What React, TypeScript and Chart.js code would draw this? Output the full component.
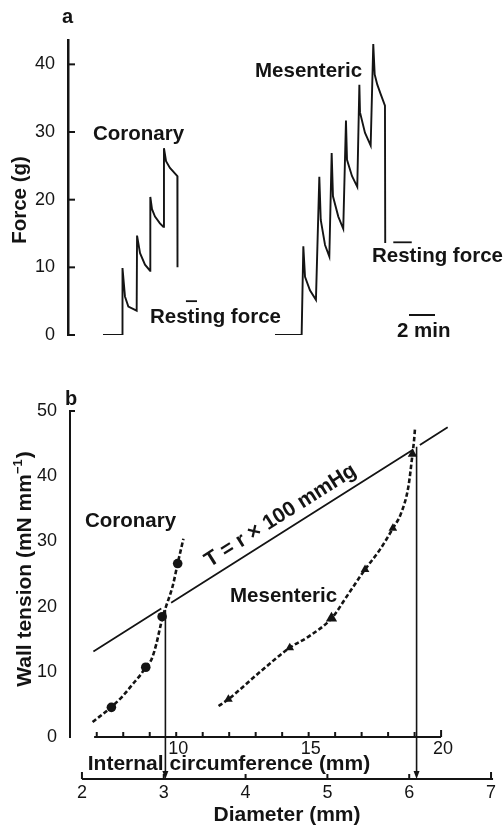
import React, { useEffect, useRef } from "react";
import { Chart, registerables } from "chart.js";

Chart.register(...registerables);

const FONT = '"Liberation Sans", Arial, Helvetica, sans-serif';
const INK = "#141414";

// ---------- Panel a: isometric force traces (time in min, force in g) ----------
const forceTicks = [0, 10, 20, 30, 40];
const coronaryTime = [0, 1.48, 1.5, 1.69, 1.95, 2.59, 2.62, 2.85, 3.23, 3.62, 3.64, 3.77, 4.0, 4.38, 4.64, 4.69, 4.85, 5.15, 5.72, 5.73];
const coronaryForce = [0, 0, 9.9, 5.7, 4.2, 3.6, 14.7, 12.1, 10.4, 9.5, 20.4, 18.6, 17.5, 16.5, 16.0, 27.6, 25.7, 24.7, 23.5, 10.0];
const mesentericTime = [13.23, 15.28, 15.41, 15.54, 15.92, 16.38, 16.64, 16.75, 17.08, 17.41, 17.59, 17.69, 18.1, 18.48, 18.69, 18.77, 19.15, 19.56, 19.72, 19.77, 20.15, 20.59, 20.79, 20.9, 21.1, 21.36, 21.69, 21.71];
const mesentericForce = [0, 0, 13.1, 8.6, 6.6, 5.2, 23.4, 17.0, 13.3, 11.6, 26.9, 20.5, 17.5, 15.7, 31.7, 25.9, 23.5, 21.9, 37.0, 32.9, 29.9, 28.0, 43.0, 38.5, 37.0, 35.6, 33.9, 13.6];
const coronaryRestTime = [6.38, 7.23];
const coronaryRestForce = [5.0, 5.0];
const mesentericRestTime = [22.33, 23.75];
const mesentericRestForce = [13.7, 13.7];
const scaleBarMinutes = 2;

// ---------- Panel b: wall tension vs diameter ----------
const tensionTicks = [0, 10, 20, 30, 40, 50];
const coronaryDiam = [2.36, 2.78, 2.98, 3.17];
const coronaryTension = [4.55, 10.7, 18.45, 26.6];
const coronaryCurveDiam = [2.13, 2.36, 2.5, 2.62, 2.72, 2.79, 2.85, 2.91, 2.95, 2.99, 3.03, 3.11, 3.17, 3.24];
const coronaryCurveTension = [2.3, 4.6, 6.3, 8.1, 9.6, 10.9, 11.9, 14.3, 16.5, 18.6, 20.1, 23.2, 26.6, 30.4];
const mesentericDiam = [3.79, 4.54, 5.05, 5.46, 5.8, 6.04];
const mesentericTension = [5.8, 13.7, 18.2, 25.7, 32.0, 43.4];
const mesentericCurveDiam = [3.67, 3.79, 4.16, 4.54, 4.77, 5.05, 5.26, 5.46, 5.64, 5.8, 5.9, 5.99, 6.04, 6.06, 6.07];
const mesentericCurveTension = [4.75, 5.8, 9.8, 13.7, 15.4, 18.2, 22.0, 25.7, 28.7, 32.0, 34.3, 38.4, 43.4, 45.6, 47.2];
const lawDiam = [2.14, 2.97, 3.03, 3.09, 6.05, 6.09, 6.13, 6.47];
const lawTension: (number | null)[] = [13.1, 19.7, null, 20.6, 44.1, null, 44.8, 47.5];
const dropDiam = [3.02, 6.09];
const dropTension = [19.5, 44.5];
const circTicks = [7, 8, 9, 10, 11, 12, 13, 14, 15, 16, 17, 18, 19, 20];
const circLabels = [10, 15, 20];
const diamTicks = [2, 3, 4, 5, 6, 7];

const zip = (xs: number[], ys: (number | null)[]) => xs.map((x, i) => ({ x, y: ys[i] }));

function txt(ctx: CanvasRenderingContext2D, s: string, x: number, y: number, font: string, align: CanvasTextAlign = "left", baseline: CanvasTextBaseline = "alphabetic") {
  ctx.font = font;
  ctx.textAlign = align;
  ctx.textBaseline = baseline;
  ctx.fillStyle = INK;
  ctx.fillText(s, x, y);
}

const BOLD = `bold 20.5px ${FONT}`;
const TICKF = `18px ${FONT}`;

function PanelA() {
  const ref = useRef<HTMLCanvasElement>(null);
  useEffect(() => {
    const annot = {
      id: "annotA",
      afterDraw(chart: any) {
        const ctx: CanvasRenderingContext2D = chart.ctx;
        const xs = chart.scales.x;
        const ys = chart.scales.y;
        const left = chart.chartArea.left;
        ctx.save();
        ctx.strokeStyle = INK;
        ctx.lineWidth = 2;
        forceTicks.forEach((v) => {
          const py = ys.getPixelForValue(v);
          ctx.beginPath();
          ctx.moveTo(left, py);
          ctx.lineTo(left + 7, py);
          ctx.stroke();
        });
        // scale bar
        const bx0 = xs.getPixelForValue(23.54);
        const bx1 = xs.getPixelForValue(23.54 + scaleBarMinutes);
        ctx.lineWidth = 2;
        ctx.beginPath();
        ctx.moveTo(bx0, 315);
        ctx.lineTo(bx1, 315);
        ctx.stroke();
        txt(ctx, "a", 62, 23, `bold 20px ${FONT}`);
        txt(ctx, "Coronary", 93, 139.5, BOLD);
        txt(ctx, "Mesenteric", 255, 76.5, BOLD);
        txt(ctx, "Resting force", 150, 322.5, BOLD);
        txt(ctx, "Resting force", 372, 261.5, BOLD);
        txt(ctx, "2 min", 397, 336.5, BOLD);
        ctx.save();
        ctx.translate(26, 200);
        ctx.rotate(-Math.PI / 2);
        txt(ctx, "Force (g)", 0, 0, BOLD, "center", "alphabetic");
        ctx.restore();
        ctx.restore();
      },
    };
    const line = (data: any, w = 1.9) => ({
      data,
      borderColor: INK,
      borderWidth: w,
      pointRadius: 0,
      tension: 0,
      fill: false,
    });
    const chart = new Chart(ref.current!, {
      type: "line",
      data: {
        datasets: [
          line(zip(coronaryTime, coronaryForce)),
          line(zip(mesentericTime, mesentericForce)),
          line(zip(coronaryRestTime, coronaryRestForce), 1.8),
          line(zip(mesentericRestTime, mesentericRestForce), 1.8),
        ] as any,
      },
      options: {
        responsive: false,
        animation: false,
        events: [],
        plugins: { legend: { display: false }, tooltip: { enabled: false } },
        layout: { padding: { left: 0, right: 0, top: 40, bottom: 45 } },
        scales: {
          x: { type: "linear", display: false, min: -2.692, max: 30.769 },
          y: {
            type: "linear",
            min: 0,
            max: 43.6,
            afterFit: (s: any) => {
              s.width = 68;
            },
            afterBuildTicks: (s: any) => {
              s.ticks = forceTicks.map((v) => ({ value: v }));
            },
            grid: { display: false },
            border: { display: true, color: INK, width: 2.5 },
            ticks: { padding: 5, color: INK, font: { family: FONT, size: 18 } },
          },
        },
      } as any,
      plugins: [annot],
    });
    return () => chart.destroy();
  }, []);
  return <canvas ref={ref} width={503} height={380} style={{ position: "absolute", left: 0, top: 0, display: "block" }} />;
}

function PanelB() {
  const ref = useRef<HTMLCanvasElement>(null);
  useEffect(() => {
    const annot = {
      id: "annotB",
      afterDraw(chart: any) {
        const ctx: CanvasRenderingContext2D = chart.ctx;
        const xs = chart.scales.x;
        const xc = chart.scales.xc;
        const ys = chart.scales.y;
        const { left, top } = chart.chartArea;
        const y0 = ys.getPixelForValue(0);
        const yD = y0 + 42;
        ctx.save();
        ctx.strokeStyle = INK;
        ctx.fillStyle = INK;
        // y-axis top tick
        ctx.lineWidth = 2;
        ctx.beginPath();
        ctx.moveTo(left, top);
        ctx.lineTo(left + 5, top);
        ctx.stroke();
        // circumference axis
        ctx.lineWidth = 2;
        ctx.beginPath();
        ctx.moveTo(xc.getPixelForValue(6.9), y0);
        ctx.lineTo(xc.getPixelForValue(20), y0);
        ctx.stroke();
        circTicks.forEach((c) => {
          const px = xc.getPixelForValue(c);
          ctx.beginPath();
          ctx.moveTo(px, y0);
          ctx.lineTo(px, y0 - (c === 20 ? 7 : 5));
          ctx.stroke();
        });
        circLabels.forEach((c) => txt(ctx, String(c), xc.getPixelForValue(c) + 2, y0 + 12, TICKF, "center", "middle"));
        txt(ctx, "Internal circumference (mm)", 229, 390, `bold 21px ${FONT}`, "center");
        // diameter axis
        ctx.beginPath();
        ctx.moveTo(xs.getPixelForValue(2), yD);
        ctx.lineTo(xs.getPixelForValue(7) + 2, yD);
        ctx.stroke();
        diamTicks.forEach((d) => {
          const px = xs.getPixelForValue(d);
          ctx.beginPath();
          ctx.moveTo(px, yD);
          ctx.lineTo(px, yD - (d === 2 || d === 7 ? 7 : 5));
          ctx.stroke();
          txt(ctx, String(d), px, yD + 14, TICKF, "center", "middle");
        });
        txt(ctx, "Diameter (mm)", 287, 441, `bold 21px ${FONT}`, "center");
        // drop lines with arrows
        ctx.lineWidth = 1.6;
        dropDiam.forEach((d, i) => {
          const px = xs.getPixelForValue(d);
          const py = ys.getPixelForValue(dropTension[i]);
          ctx.beginPath();
          ctx.moveTo(px, py);
          ctx.lineTo(px, yD - 4);
          ctx.stroke();
          ctx.beginPath();
          ctx.moveTo(px - 3, yD - 8);
          ctx.lineTo(px + 3, yD - 8);
          ctx.lineTo(px, yD);
          ctx.closePath();
          ctx.fill();
        });
        // texts
        txt(ctx, "b", 65, 25, `bold 20px ${FONT}`);
        txt(ctx, "Coronary", 85, 146.7, BOLD);
        txt(ctx, "Mesenteric", 230, 221.7, BOLD);
        // rotated law label
        const p1x = xs.getPixelForValue(lawDiam[3]);
        const p1y = ys.getPixelForValue(lawTension[3] as number);
        const p2x = xs.getPixelForValue(lawDiam[4]);
        const p2y = ys.getPixelForValue(lawTension[4] as number);
        const ang = Math.atan2(p2y - p1y, p2x - p1x);
        const f = 0.485;
        const ax = p1x + (p2x - p1x) * f + 15 * Math.sin(ang);
        const ay = p1y + (p2y - p1y) * f - 15 * Math.cos(ang);
        ctx.save();
        ctx.translate(ax, ay);
        ctx.rotate(ang);
        txt(ctx, "T = r \u00d7 100 mmHg", 0, 0, `bold 21px ${FONT}`, "center", "middle");
        ctx.restore();
        // y title with superscript
        ctx.save();
        ctx.translate(31, 189.5);
        ctx.rotate(-Math.PI / 2);
        const mainF = `bold 21px ${FONT}`;
        const supF = `bold 13px ${FONT}`;
        ctx.font = mainF;
        const s1 = "Wall tension (mN mm";
        const s3 = ")";
        const w1 = ctx.measureText(s1).width;
        const w3 = ctx.measureText(s3).width;
        ctx.font = supF;
        const s2 = "\u22121";
        const w2 = ctx.measureText(s2).width;
        const start = -(w1 + w2 + w3) / 2;
        txt(ctx, s1, start, 0, mainF);
        txt(ctx, s2, start + w1, -9, supF);
        txt(ctx, s3, start + w1 + w2 + 1, 0, mainF);
        ctx.restore();
        ctx.restore();
      },
    };
    const dashed = (data: any) => ({
      data,
      borderColor: INK,
      borderWidth: 2.6,
      borderDash: [4.5, 2.5],
      pointRadius: 0,
      cubicInterpolationMode: "monotone",
      fill: false,
    });
    const chart = new Chart(ref.current!, {
      type: "line",
      data: {
        datasets: [
          { data: zip(coronaryDiam, coronaryTension), showLine: false, pointStyle: "circle", pointRadius: 4.8, pointBackgroundColor: INK, pointBorderColor: INK, pointBorderWidth: 0 },
          { data: zip(mesentericDiam, mesentericTension), showLine: false, pointStyle: "triangle", pointRadius: [5, 5, 6.5, 5, 5, 5.5], pointBackgroundColor: INK, pointBorderColor: INK, pointBorderWidth: 0 },
          dashed(zip(coronaryCurveDiam, coronaryCurveTension)),
          dashed(zip(mesentericCurveDiam, mesentericCurveTension)),
          { data: zip(lawDiam, lawTension), borderColor: INK, borderWidth: 1.8, pointRadius: 0, tension: 0, spanGaps: false, fill: false },
        ] as any,
      },
      options: {
        responsive: false,
        animation: false,
        events: [],
        plugins: { legend: { display: false }, tooltip: { enabled: false } },
        layout: { padding: { left: 0, right: 3, top: 31, bottom: 91 } },
        scales: {
          x: { type: "linear", display: false, min: 1.854, max: 7.079 },
          xc: { type: "linear", axis: "x", display: false, min: 5.99, max: 22.13 },
          y: {
            type: "linear",
            min: 0,
            max: 50,
            afterFit: (s: any) => {
              s.width = 70;
            },
            afterBuildTicks: (s: any) => {
              s.ticks = tensionTicks.map((v) => ({ value: v }));
            },
            grid: { display: false },
            border: { display: true, color: INK, width: 2 },
            ticks: { padding: 5, color: INK, font: { family: FONT, size: 18 } },
          },
        },
      } as any,
      plugins: [annot],
    });
    return () => chart.destroy();
  }, []);
  return <canvas ref={ref} width={503} height={448} style={{ position: "absolute", left: 0, top: 380, display: "block" }} />;
}

export default function App() {
  return (
    <div style={{ position: "absolute", left: 0, top: 0, width: 503, height: 828, background: "#fff", overflow: "hidden" }}>
      <PanelA />
      <PanelB />
    </div>
  );
}
